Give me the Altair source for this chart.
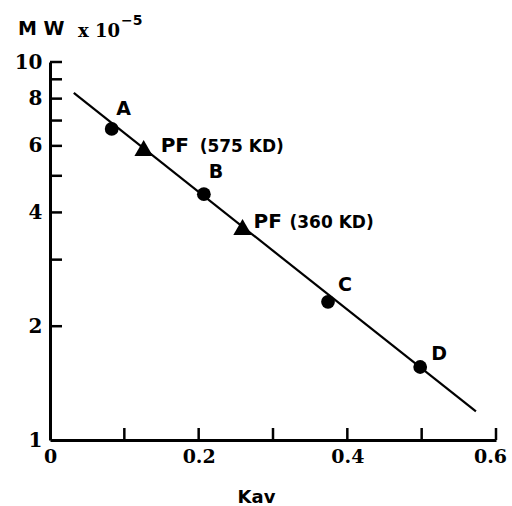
import altair as alt
import pandas as pd

# ---- data ----
std_names = ["A", "B", "C", "D"]
std_kav = [0.083, 0.207, 0.374, 0.498]
std_mw = [6.65, 4.47, 2.32, 1.56]

pf_kav = [0.126, 0.259]
pf_mw = [5.92, 3.66]
pf_kd = ["(575 KD)", "(360 KD)"]

fit_kav = [0.032, 0.573]
fit_mw = [8.28, 1.19]

y_label_values = [1, 2, 4, 6, 8, 10]
y_tick_values = [2, 3, 4, 5, 6, 7, 8, 9, 10]
x_label_values = [0, 0.2, 0.4, 0.6]
x_tick_values = [0.1, 0.2, 0.3, 0.4, 0.5, 0.6]

std_df = pd.DataFrame({"name": std_names, "kav": std_kav, "mw": std_mw})
pf_df = pd.DataFrame({"kav": pf_kav, "mw": pf_mw, "kd": pf_kd})
fit_df = pd.DataFrame({"kav": fit_kav, "mw": fit_mw})
ytick_df = pd.DataFrame({"mw": y_tick_values})
xtick_df = pd.DataFrame({"kav": x_tick_values})

W, H = 446, 378
SANS = "DejaVu Sans"
SERIF = "DejaVu Serif"

xscale = alt.Scale(domain=[0, 0.6], nice=False, zero=False)
yscale = alt.Scale(type="log", domain=[1, 10], nice=False)

X = alt.X("kav:Q", scale=xscale,
          axis=alt.Axis(values=x_label_values, ticks=False, grid=False,
                        labelFlush=False, labelOverlap=False,
                        labelOffset={"condition": {"test": "datum.value >= 0.6", "value": -6}, "value": 0},
                        labelPadding=7, labelFont=SERIF, labelFontWeight="bold",
                        labelFontSize=19, labelColor="black",
                        labelExpr="datum.value == 0 ? '0' : format(datum.value, '.1f')",
                        domainColor="black", domainWidth=3,
                        title="Kav", titleFont=SANS, titleFontWeight="bold",
                        titleFontSize=18, titleColor="black",
                        titleX=206, titleY=62, titleBaseline="alphabetic"))
Y = alt.Y("mw:Q", scale=yscale,
          axis=alt.Axis(values=y_label_values, ticks=False, grid=False,
                        labelFlush=False, labelOverlap=False,
                        labelPadding=8, labelFont=SERIF, labelFontWeight="bold",
                        labelFontSize=20, labelColor="black", format="d",
                        domainColor="black", domainWidth=3, title=None))

fit = alt.Chart(fit_df).mark_line(color="black", strokeWidth=2.2).encode(x=X, y=Y)

std_pts = alt.Chart(std_df).mark_point(shape="circle", filled=True, opacity=1,
                                        color="black", size=190).encode(
    x=alt.X("kav:Q", scale=xscale), y=alt.Y("mw:Q", scale=yscale))

pf_pts = alt.Chart(pf_df).mark_point(shape="triangle-up", filled=True, opacity=1,
                                      color="black", size=340).encode(
    x=alt.X("kav:Q", scale=xscale), y=alt.Y("mw:Q", scale=yscale))

# tick marks pointing into the plot
ytick = alt.Chart(ytick_df).mark_rule(color="black", strokeWidth=2.5).encode(
    y=alt.Y("mw:Q", scale=yscale), x=alt.value(0), x2=alt.value(12))
xtick = alt.Chart(xtick_df).mark_rule(color="black", strokeWidth=2.5).encode(
    x=alt.X("kav:Q", scale=xscale), y=alt.value(H), y2=alt.value(H - 12))

layers = [fit, std_pts, pf_pts, ytick, xtick]

# letter labels for the standards
std_offsets = {"A": (12, -20), "B": (12, -22), "C": (17, -17), "D": (19, -13)}
for nm, (dx, dy) in std_offsets.items():
    layers.append(
        alt.Chart(std_df).transform_filter(alt.datum.name == nm)
        .mark_text(font=SANS, fontWeight="bold", fontSize=19, color="black",
                   dx=dx, dy=dy, align="center", baseline="middle")
        .encode(x=alt.X("kav:Q", scale=xscale), y=alt.Y("mw:Q", scale=yscale),
                text="name:N"))

# PF labels
pf_offsets = {"(575 KD)": (17, 4, 56), "(360 KD)": (11, 1, 47)}
for kd, (dx1, dy, dx2) in pf_offsets.items():
    base = alt.Chart(pf_df).transform_filter(alt.datum.kd == kd)
    layers.append(
        base.mark_text(font=SANS, fontWeight="bold", fontSize=20, color="black",
                       dx=dx1, dy=dy, align="left", baseline="alphabetic")
        .encode(x=alt.X("kav:Q", scale=xscale), y=alt.Y("mw:Q", scale=yscale),
                text=alt.value("PF")))
    layers.append(
        base.mark_text(font=SANS, fontWeight="bold", fontSize=17, color="black",
                       dx=dx2, dy=dy, align="left", baseline="alphabetic")
        .encode(x=alt.X("kav:Q", scale=xscale), y=alt.Y("mw:Q", scale=yscale),
                text="kd:N"))

# y-axis title "MW x 10^-5"
title_src = pd.DataFrame({"t": [0]})
layers.append(alt.Chart(title_src).mark_text(
    font=SANS, fontWeight="bold", fontSize=19, color="black",
    align="left", baseline="alphabetic").encode(
    x=alt.value(-32), y=alt.value(-27), text=alt.value("M W")))
layers.append(alt.Chart(title_src).mark_text(
    font=SERIF, fontWeight="bold", fontSize=18, color="black",
    align="left", baseline="alphabetic").encode(
    x=alt.value(28), y=alt.value(-25), text=alt.value("x 10")))
layers.append(alt.Chart(title_src).mark_text(
    font=SANS, fontWeight="bold", fontSize=14, color="black",
    align="left", baseline="alphabetic").encode(
    x=alt.value(71), y=alt.value(-37), text=alt.value("−5")))

chart = alt.layer(*layers).properties(
    width=W, height=H,
    autosize=alt.AutoSizeParams(type="none"),
    padding={"left": 50, "top": 62, "right": 16, "bottom": 66},
    background="white",
).configure_view(stroke=None)

chart.save("out.html", embed_options={"renderer": "svg", "actions": False})
